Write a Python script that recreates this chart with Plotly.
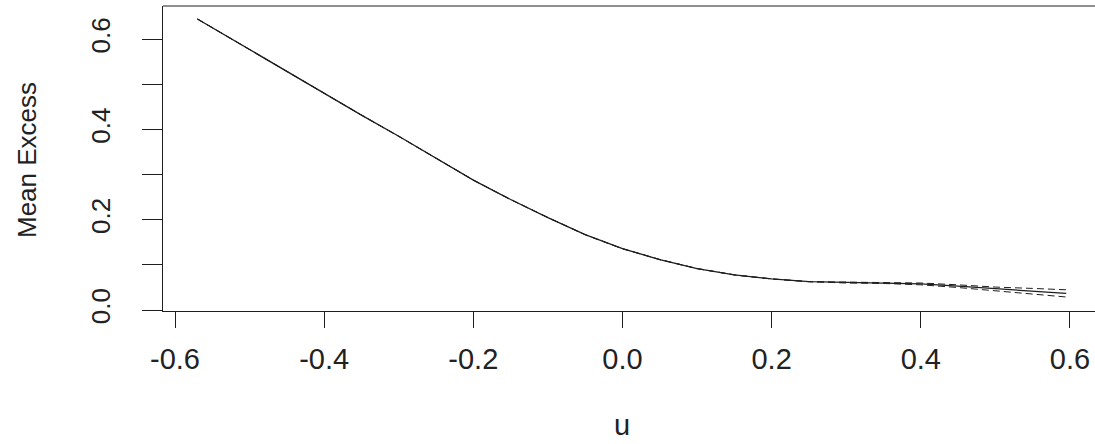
import plotly.graph_objects as go

# Data
u = [-0.57, -0.5, -0.45, -0.4, -0.35, -0.3, -0.25, -0.2, -0.15, -0.1, -0.05, 0.0,
     0.05, 0.1, 0.15, 0.2, 0.25, 0.3, 0.35, 0.4, 0.45, 0.5, 0.55, 0.595]
mean_excess = [0.645, 0.577, 0.529, 0.480, 0.432, 0.385, 0.336, 0.288, 0.245, 0.205,
               0.167, 0.136, 0.112, 0.092, 0.078, 0.069, 0.063, 0.061, 0.060, 0.058,
               0.053, 0.047, 0.042, 0.037]
upper = [0.645, 0.577, 0.529, 0.480, 0.432, 0.385, 0.336, 0.288, 0.245, 0.205,
         0.167, 0.136, 0.112, 0.092, 0.078, 0.069, 0.063, 0.062, 0.061, 0.060,
         0.056, 0.051, 0.048, 0.045]
lower = [0.645, 0.577, 0.529, 0.480, 0.432, 0.385, 0.336, 0.288, 0.245, 0.205,
         0.167, 0.136, 0.112, 0.092, 0.078, 0.069, 0.063, 0.060, 0.059, 0.056,
         0.050, 0.043, 0.036, 0.029]
x_ticks = [-0.6, -0.4, -0.2, 0.0, 0.2, 0.4, 0.6]
x_tick_text = ["-0.6", "-0.4", "-0.2", "0.0", "0.2", "0.4", "0.6"]
y_ticks = [0.0, 0.1, 0.2, 0.3, 0.4, 0.5, 0.6]
y_tick_text = ["0.0", "", "0.2", "", "0.4", "", "0.6"]

INK = "#1e1e1e"
TXT = "#222222"

fig = go.Figure()
for series in (upper, lower):
    fig.add_trace(go.Scatter(x=u, y=series, mode="lines",
                             line=dict(color=INK, width=1, dash="7px,4px"),
                             hoverinfo="skip", showlegend=False))
fig.add_trace(go.Scatter(x=u, y=mean_excess, mode="lines",
                         line=dict(color=INK, width=1.3), showlegend=False))

L, T, B = 163, 6, 133
W, H = 1095, 444
pw = W - L
ph = H - T - B
ppu_x = 745.8
ppu_y = 451.4
x0 = -0.6 - (175 - L) / ppu_x
x1 = x0 + pw / ppu_x
y0 = -0.002
y1 = y0 + ph / ppu_y

fig.update_layout(
    width=W, height=H,
    margin=dict(l=L, r=0, t=T, b=B, pad=0),
    paper_bgcolor="white", plot_bgcolor="white",
    font=dict(family="Liberation Sans, Arial, sans-serif", color=TXT),
    xaxis=dict(range=[x0, x1], showgrid=False, zeroline=False,
               showline=True, linecolor=INK, linewidth=1,
               ticks="outside", ticklen=16, tickcolor=INK, tickwidth=1,
               tickvals=x_ticks, ticktext=x_tick_text,
               tickfont=dict(size=29, color=TXT), ticklabelstandoff=6),
    yaxis=dict(range=[y0, y1], showgrid=False, zeroline=False,
               showline=True, linecolor=INK, linewidth=1,
               ticks="outside", ticklen=20, tickcolor=INK, tickwidth=1,
               tickvals=y_ticks, ticktext=y_tick_text, tickangle=-90,
               tickfont=dict(size=26, color=TXT), ticklabelstandoff=22),
    shapes=[dict(type="line", xref="paper", yref="paper", x0=0, x1=1, y0=1, y1=1,
                 line=dict(color=INK, width=1))],
    annotations=[
        dict(text="Mean Excess", xref="paper", yref="paper",
             x=(27 - L) / pw, y=(H - B - 160) / ph, textangle=-90,
             showarrow=False, font=dict(size=26, color=TXT),
             xanchor="center", yanchor="middle"),
        dict(text="u", xref="paper", yref="paper",
             x=(622 - L) / pw, y=(H - B - 425) / ph,
             showarrow=False, font=dict(size=29, color=TXT),
             xanchor="center", yanchor="middle"),
    ],
)

fig.write_html("out.html")
